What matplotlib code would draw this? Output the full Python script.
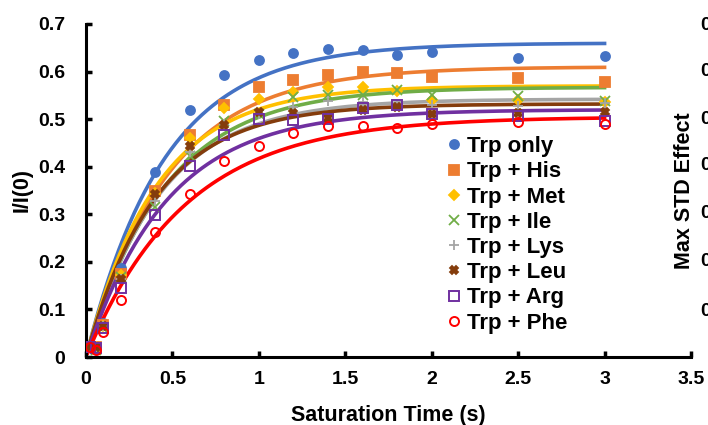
import numpy as np
import matplotlib
matplotlib.use("Agg")
import matplotlib.pyplot as plt

plt.rcParams['font.family'] = ['Liberation Sans', 'DejaVu Sans']
plt.rcParams['font.weight'] = 'bold'

# saturation times (s)
t = [0.025, 0.06, 0.1, 0.2, 0.4, 0.6, 0.8, 1.0, 1.2, 1.4, 1.6, 1.8, 2.0, 2.5, 3.0]

labels = ["Trp only", "Trp + His", "Trp + Met", "Trp + Ile",
          "Trp + Lys", "Trp + Leu", "Trp + Arg", "Trp + Phe"]

trp_only = [0.020, 0.020, 0.072, 0.188, 0.389, 0.520, 0.592, 0.624, 0.640, 0.647, 0.645, 0.634, 0.641, 0.628, 0.632]
trp_his  = [0.020, 0.020, 0.068, 0.175, 0.349, 0.467, 0.529, 0.567, 0.582, 0.592, 0.600, 0.598, 0.588, 0.586, 0.579]
trp_met  = [0.020, 0.020, 0.066, 0.172, 0.345, 0.461, 0.524, 0.543, 0.558, 0.567, 0.567, 0.560, 0.541, 0.541, 0.535]
trp_ile  = [0.020, 0.015, 0.062, 0.168, 0.315, 0.423, 0.497, 0.510, 0.547, 0.550, 0.550, 0.562, 0.550, 0.548, 0.539]
trp_lys  = [0.020, 0.020, 0.065, 0.165, 0.328, 0.430, 0.490, 0.510, 0.526, 0.539, 0.535, 0.530, 0.529, 0.527, 0.533]
trp_leu  = [0.020, 0.020, 0.065, 0.165, 0.342, 0.444, 0.488, 0.516, 0.512, 0.503, 0.520, 0.525, 0.510, 0.512, 0.516]
trp_arg  = [0.020, 0.018, 0.061, 0.146, 0.298, 0.402, 0.467, 0.501, 0.499, 0.501, 0.524, 0.529, 0.510, 0.507, 0.497]
trp_phe  = [0.020, 0.015, 0.053, 0.120, 0.262, 0.342, 0.412, 0.444, 0.471, 0.486, 0.486, 0.482, 0.490, 0.495, 0.490]

# fitted curve I/I(0) = A (1 - exp(-k t)), parameters
fit_amp  = [0.660, 0.610, 0.570, 0.567, 0.542, 0.532, 0.520, 0.505]
fit_rate = [2.20, 2.10, 2.45, 2.20, 2.35, 2.47, 2.15, 1.75]

series = [trp_only, trp_his, trp_met, trp_ile, trp_lys, trp_leu, trp_arg, trp_phe]
colors = ['#4472C4', '#ED7D31', '#FFC000', '#70AD47', '#A5A5A5', '#843C0C', '#7030A0', '#FF0000']
markers = ['o', 's', 'D', 'x', '+', 'X', 's', 'o']
msizes = [6.5, 7, 5.5, 7, 7, 6, 6.5, 6.5]
filled = [True, True, True, True, True, True, False, False]

fig = plt.figure(figsize=(7.08, 4.25), dpi=100)
ax = fig.add_axes([86/708, 1-357/425, 605/708, 333/425])

tt = np.linspace(0.01, 3.0, 200)
for amp, k, c in zip(fit_amp, fit_rate, colors):
    ax.plot(tt, amp*(1-np.exp(-k*tt)), color=c, lw=2.6, zorder=2)

handles = []
for y, lab, c, m, ms, f in zip(series, labels, colors, markers, msizes, filled):
    if f:
        h, = ax.plot(t, y, ls='none', marker=m, ms=ms, color=c, mew=1.3, label=lab, zorder=3)
    else:
        h, = ax.plot(t, y, ls='none', marker=m, ms=ms, mfc='none', mec=c, mew=1.4, label=lab, zorder=3)
    handles.append(h)

ax.set_xlim(0, 3.5)
ax.set_ylim(0, 0.7)
ax.set_xticks([0, 0.5, 1, 1.5, 2, 2.5, 3, 3.5])
ax.set_xticklabels(['0', '0.5', '1', '1.5', '2', '2.5', '3', '3.5'])
ax.set_yticks([0, 0.1, 0.2, 0.3, 0.4, 0.5, 0.6, 0.7])
ax.set_yticklabels(['0', '0.1', '0.2', '0.3', '0.4', '0.5', '0.6', '0.7'])
ax.tick_params(axis='both', direction='in', length=4, width=2.5, labelsize=14)
ax.tick_params(axis='y', pad=15)
ax.tick_params(axis='x', pad=10)
for s in ['top', 'right']:
    ax.spines[s].set_visible(False)
for s in ['left', 'bottom']:
    ax.spines[s].set_linewidth(2.2)

ax.set_xlabel('Saturation Time (s)', fontsize=15.5, fontweight='bold', labelpad=12)
ax.set_ylabel('I/I(0)', fontsize=15.5, fontweight='bold', labelpad=4)

leg = ax.legend(handles=handles, loc='upper left', bbox_to_anchor=(0.58, 0.69),
                frameon=False, fontsize=16, handlelength=0.7, handletextpad=0.25,
                labelspacing=0.19, borderaxespad=0)

# cropped neighbouring chart at the right edge
fig.text(684/708, 1-191/425, 'Max STD Effect', rotation=90, ha='center', va='center',
         fontsize=15.5, fontweight='bold')
for py in [25, 72, 120, 166, 214, 262, 311]:
    fig.text(700/708, 1-py/425, '0', ha='left', va='center', fontsize=14, fontweight='bold')

fig.savefig('out.png', dpi=100)
